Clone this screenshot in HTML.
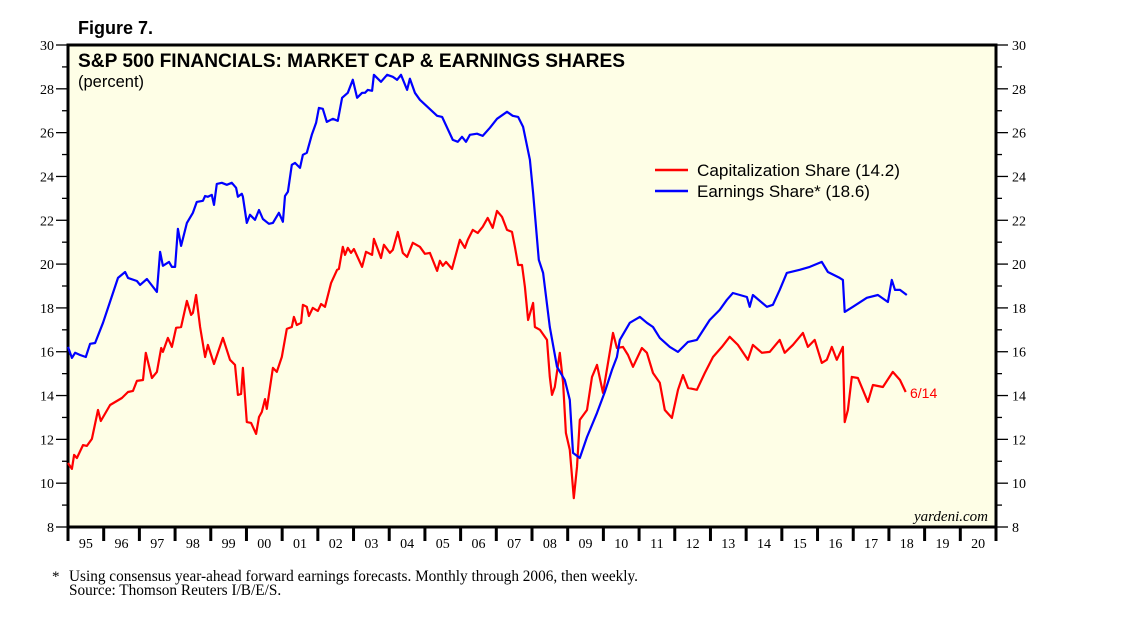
<!DOCTYPE html>
<html><head><meta charset="utf-8"><style>
html,body{margin:0;padding:0;background:#fff;}
svg{display:block;}
.sans{font-family:"Liberation Sans",sans-serif;}
.serif{font-family:"Liberation Serif",serif;}
</style></head><body>
<svg id="chart" width="1138" height="621" xmlns="http://www.w3.org/2000/svg">
<text class="sans" x="78" y="34" font-size="18" font-weight="bold">Figure 7.</text>
<rect x="68" y="45" width="928" height="482" fill="#fefee6" stroke="#000" stroke-width="3"/>
<text class="sans" x="78" y="67" font-size="19" font-weight="bold" textLength="547" lengthAdjust="spacingAndGlyphs">S&amp;P 500 FINANCIALS: MARKET CAP &amp; EARNINGS SHARES</text>
<text class="sans" x="78" y="87" font-size="16.5">(percent)</text>
<g id="axes"></g>
<g id="series"></g>
<g>
<line x1="655" y1="170" x2="688" y2="170" stroke="#ff0000" stroke-width="2.5"/>
<text class="sans" x="697" y="176" font-size="17" textLength="203" lengthAdjust="spacingAndGlyphs">Capitalization Share (14.2)</text>
<line x1="655" y1="191" x2="688" y2="191" stroke="#0000ff" stroke-width="2.5"/>
<text class="sans" x="697" y="197" font-size="17">Earnings Share* (18.6)</text>
</g>
<text class="sans" x="910" y="398" font-size="14" fill="#ff0000">6/14</text>
<text class="serif" x="988" y="521" font-size="15" font-style="italic" text-anchor="end">yardeni.com</text>
<text class="serif" x="52" y="581" font-size="15">*</text>
<text class="serif" x="69" y="581" font-size="15.3" textLength="569" lengthAdjust="spacingAndGlyphs">Using consensus year-ahead forward earnings forecasts. Monthly through 2006, then weekly.</text>
<text class="serif" x="69" y="595" font-size="15.3">Source: Thomson Reuters I/B/E/S.</text>
</svg>
<script>
const yTicks=[8,10,12,14,16,18,20,22,24,26,28,30];
const yearLabels=["95","96","97","98","99","00","01","02","03","04","05","06","07","08","09","10","11","12","13","14","15","16","17","18","19","20"];
const earnDates=[1995.00,1995.11,1995.20,1995.34,1995.50,1995.62,1995.76,1995.98,1996.12,1996.40,1996.60,1996.68,1996.93,1997.02,1997.21,1997.49,1997.58,1997.66,1997.83,1997.91,1998.00,1998.08,1998.17,1998.33,1998.50,1998.61,1998.78,1998.84,1998.92,1999.03,1999.09,1999.17,1999.31,1999.45,1999.59,1999.71,1999.76,1999.87,1999.90,2000.01,2000.10,2000.24,2000.35,2000.46,2000.63,2000.74,2000.91,2001.02,2001.08,2001.16,2001.27,2001.36,2001.50,2001.58,2001.69,2001.83,2001.95,2002.03,2002.14,2002.25,2002.42,2002.56,2002.68,2002.84,2002.98,2003.10,2003.24,2003.32,2003.40,2003.52,2003.57,2003.77,2003.94,2004.10,2004.22,2004.33,2004.50,2004.58,2004.72,2004.86,2005.34,2005.48,2005.78,2005.92,2006.04,2006.15,2006.26,2006.46,2006.62,2006.82,2007.02,2007.30,2007.46,2007.61,2007.75,2007.94,2008.03,2008.19,2008.31,2008.50,2008.70,2008.92,2009.06,2009.15,2009.34,2009.54,2009.82,2010.04,2010.24,2010.38,2010.46,2010.74,2011.02,2011.22,2011.39,2011.58,2011.86,2012.09,2012.37,2012.62,2012.98,2013.26,2013.46,2013.63,2014.02,2014.10,2014.19,2014.58,2014.75,2014.94,2015.14,2015.50,2015.78,2016.12,2016.29,2016.62,2016.71,2016.76,2016.99,2017.38,2017.69,2017.97,2018.08,2018.17,2018.31,2018.50];
const earnValues=[16.22,15.72,15.95,15.85,15.76,16.36,16.40,17.32,18.0,19.37,19.64,19.37,19.23,19.05,19.32,18.73,20.56,19.92,20.10,19.87,19.87,21.61,20.83,21.88,22.34,22.84,22.89,23.11,23.07,23.16,22.70,23.66,23.71,23.62,23.71,23.48,23.07,23.21,23.07,21.88,22.25,22.02,22.47,22.06,21.84,21.88,22.34,21.93,23.11,23.30,24.53,24.62,24.39,24.99,25.08,25.90,26.45,27.13,27.09,26.49,26.63,26.54,27.59,27.82,28.41,27.59,27.82,27.82,27.95,27.91,28.64,28.32,28.64,28.55,28.41,28.64,27.95,28.46,27.82,27.50,26.77,26.72,25.67,25.58,25.81,25.58,25.90,25.95,25.85,26.22,26.63,26.95,26.77,26.72,26.26,24.76,23.25,20.19,19.60,17.13,15.31,14.71,13.80,11.38,11.15,12.11,13.21,14.16,15.17,15.76,16.54,17.32,17.59,17.32,17.13,16.63,16.22,15.99,16.45,16.54,17.45,17.91,18.37,18.68,18.50,18.05,18.59,18.05,18.14,18.82,19.60,19.74,19.87,20.10,19.64,19.37,19.28,17.82,18.05,18.46,18.59,18.27,19.28,18.82,18.82,18.59];
const capDates=[1995.00,1995.11,1995.17,1995.25,1995.42,1995.53,1995.67,1995.84,1995.92,1996.18,1996.51,1996.68,1996.82,1996.93,1997.10,1997.18,1997.35,1997.49,1997.61,1997.66,1997.80,1997.91,1998.03,1998.17,1998.33,1998.45,1998.50,1998.59,1998.70,1998.84,1998.92,1999.09,1999.34,1999.54,1999.68,1999.76,1999.85,1999.90,2000.01,2000.13,2000.27,2000.35,2000.43,2000.52,2000.57,2000.74,2000.85,2000.99,2001.13,2001.27,2001.33,2001.41,2001.53,2001.58,2001.69,2001.75,2001.86,2002.00,2002.09,2002.20,2002.37,2002.54,2002.59,2002.70,2002.76,2002.84,2002.93,2003.01,2003.24,2003.35,2003.52,2003.57,2003.77,2003.85,2004.02,2004.10,2004.24,2004.38,2004.50,2004.66,2004.86,2005.00,2005.14,2005.34,2005.42,2005.50,2005.59,2005.76,2005.98,2006.12,2006.20,2006.34,2006.48,2006.62,2006.76,2006.90,2007.02,2007.16,2007.30,2007.44,2007.52,2007.61,2007.72,2007.80,2007.89,2008.03,2008.08,2008.22,2008.42,2008.50,2008.56,2008.64,2008.78,2008.87,2008.95,2009.06,2009.17,2009.26,2009.34,2009.54,2009.68,2009.82,2009.99,2010.13,2010.27,2010.38,2010.55,2010.69,2010.83,2011.08,2011.22,2011.39,2011.58,2011.72,2011.92,2012.09,2012.23,2012.37,2012.62,2012.84,2013.07,2013.32,2013.54,2013.77,2014.05,2014.19,2014.44,2014.66,2014.94,2015.08,2015.31,2015.59,2015.73,2015.92,2016.12,2016.26,2016.40,2016.54,2016.71,2016.76,2016.85,2016.96,2017.13,2017.41,2017.55,2017.83,2018.11,2018.31,2018.47];
const capValues=[10.92,10.65,11.29,11.15,11.74,11.70,12.02,13.34,12.84,13.57,13.89,14.16,14.21,14.67,14.71,15.95,14.80,15.08,16.17,15.99,16.63,16.22,17.09,17.13,18.32,17.68,17.77,18.59,17.13,15.76,16.31,15.44,16.63,15.63,15.40,14.03,14.07,15.26,12.79,12.75,12.25,13.02,13.25,13.84,13.39,15.26,15.08,15.76,17.04,17.13,17.59,17.22,17.32,18.14,18.05,17.63,18.00,17.86,18.18,18.05,19.14,19.74,19.78,20.79,20.42,20.74,20.51,20.69,19.87,20.56,20.42,21.15,20.28,20.88,20.51,20.65,21.47,20.51,20.33,20.97,20.79,20.47,20.51,19.69,20.15,19.92,20.10,19.78,21.11,20.74,21.11,21.56,21.42,21.70,22.11,21.65,22.43,22.16,21.56,21.47,20.79,19.96,19.96,18.96,17.45,18.23,17.13,17.00,16.54,14.85,14.03,14.39,15.95,14.58,12.29,11.52,9.32,10.74,12.89,13.34,14.85,15.40,14.12,15.49,16.86,16.17,16.22,15.85,15.31,16.17,15.95,15.03,14.58,13.34,12.98,14.26,14.94,14.35,14.26,15.03,15.76,16.22,16.68,16.31,15.63,16.31,15.95,15.99,16.54,15.95,16.31,16.86,16.22,16.54,15.49,15.63,16.22,15.63,16.22,12.79,13.34,14.85,14.80,13.71,14.48,14.39,15.08,14.71,14.16];

const NS="http://www.w3.org/2000/svg";
const X0=68,X1=996,T0=1995,T1=2021,Y0=527,Y1=45,V0=8,V1=30;
function xs(t){return X0+(t-T0)*(X1-X0)/(T1-T0);}
function ys(v){return Y0-(v-V0)*(Y0-Y1)/(V1-V0);}
function mk(tag,attrs,parent){const e=document.createElementNS(NS,tag);for(const k in attrs)e.setAttribute(k,attrs[k]);parent.appendChild(e);return e;}
const axes=document.getElementById('axes');
for(let v=V0;v<=V1;v++){
  const major=v%2===0;const y=ys(v);
  const l=mk('line',{x1:major?56:62,x2:X0,y1:y,y2:y,stroke:'#000','stroke-width':1.3},axes);
  
  
  const r=mk('line',{x1:X1,x2:major?1008:1002,y1:y,y2:y,stroke:'#000','stroke-width':1.3},axes);
  
  
}
yTicks.forEach(v=>{
  const y=ys(v)+5;
  const a=mk('text',{x:54,y:y,'font-size':14,'text-anchor':'end','class':'serif'},axes);a.textContent=v;
  
  
  const b=mk('text',{x:1012,y:y,'font-size':14,'class':'serif'},axes);b.textContent=v;
  
  
});
for(let i=0;i<=yearLabels.length;i++){
  const x=xs(T0+i);
  const t=mk('line',{x1:x,x2:x,y1:Y0,y2:541,stroke:'#000','stroke-width':3},axes);
  
  
}
yearLabels.forEach((lab,i)=>{
  const t=mk('text',{x:xs(T0+i+0.5),y:548,'font-size':14,'text-anchor':'middle','class':'serif'},axes);t.textContent=lab;
  
  
});
const series=document.getElementById('series');
function line(dates,vals,color,name){
  const d=dates.map((t,i)=>(i?'L':'M')+xs(t).toFixed(1)+' '+ys(vals[i]).toFixed(1)).join(' ');
  const p=mk('path',{d:d,fill:'none',stroke:color,'stroke-width':2.2,'stroke-linejoin':'round'},series);
  
  
}
line(capDates,capValues,'#ff0000','capitalization-share-line');
line(earnDates,earnValues,'#0000ff','earnings-share-line');
</script>
</body></html>
